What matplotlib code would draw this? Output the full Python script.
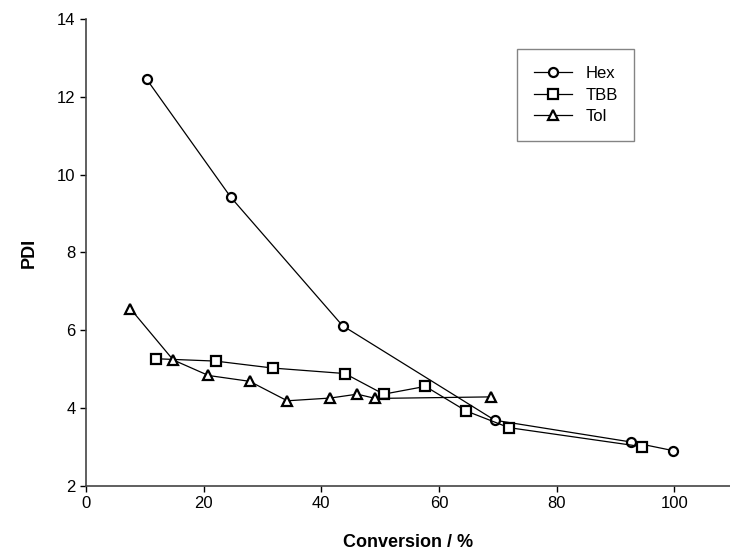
import matplotlib
matplotlib.use("Agg")
import matplotlib.pyplot as plt

# values
hex_x = [10.3, 24.6, 43.6, 69.5, 92.7, 99.8]
hex_y = [12.45, 9.42, 6.12, 3.69, 3.13, 2.91]

tbb_x = [11.9, 22.0, 31.8, 44.0, 50.6, 57.7, 64.6, 71.9, 94.6]
tbb_y = [5.27, 5.21, 5.03, 4.89, 4.36, 4.56, 3.93, 3.50, 3.01]

tol_x = [7.5, 14.8, 20.8, 27.8, 34.2, 41.5, 46.1, 49.2, 68.8]
tol_y = [6.56, 5.24, 4.84, 4.69, 4.19, 4.26, 4.36, 4.25, 4.29]

x_ticks = [0, 20, 40, 60, 80, 100]
y_ticks = [2, 4, 6, 8, 10, 12, 14]

plt.rcParams['font.family'] = ['Liberation Sans', 'DejaVu Sans']

fig = plt.figure(figsize=(7.3, 5.58), dpi=100)
ax = fig.add_axes([0.118, 0.129, 0.882, 0.837])

style = dict(color='black', lw=0.9, markerfacecolor='white',
             markeredgecolor='black', markeredgewidth=1.6, markersize=6.5)
ax.plot(hex_x, hex_y, marker='o', label='Hex', **style)
ax.plot(tbb_x, tbb_y, marker='s', label='TBB', **style)
ax.plot(tol_x, tol_y, marker='^', label='Tol', **style)

ax.set_xlim(0, 109.5)
ax.set_ylim(2, 14)
ax.set_xticks(x_ticks)
ax.set_yticks(y_ticks)
ax.tick_params(direction='out', length=4, width=1, labelsize=12, colors='black')

for s in ['top', 'right']:
    ax.spines[s].set_visible(False)
for s in ['left', 'bottom']:
    ax.spines[s].set_color('#444444')
    ax.spines[s].set_linewidth(1.2)

ax.set_xlabel('Conversion / %', fontsize=13, fontweight='bold', labelpad=16)
ax.set_ylabel('PDI', fontsize=13, fontweight='bold', labelpad=14)

leg = ax.legend(loc='upper left', bbox_to_anchor=(0.669, 0.935), fontsize=12,
                frameon=True, fancybox=False, handlelength=2.3,
                borderpad=1.0, labelspacing=0.4, borderaxespad=0)
leg.get_frame().set_edgecolor('#666666')
leg.get_frame().set_linewidth(1.0)

fig.savefig('out.png', dpi=100)
